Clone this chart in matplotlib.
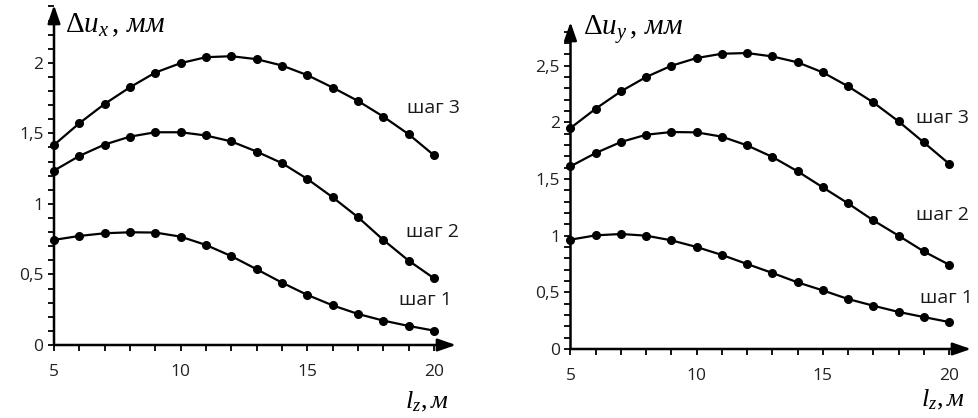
import matplotlib
matplotlib.use("Agg")
import matplotlib.pyplot as plt
from matplotlib.ticker import FixedLocator, MultipleLocator
import numpy as np

plt.rcParams['mathtext.fontset'] = 'custom'
plt.rcParams['mathtext.rm'] = 'Liberation Serif'
plt.rcParams['mathtext.it'] = 'Liberation Serif:italic'
plt.rcParams['font.family'] = ['Open Sans', 'DejaVu Sans']

# ---- data ----
lz = [5, 6, 7, 8, 9, 10, 11, 12, 13, 14, 15, 16, 17, 18, 19, 20]

ux_step1 = [0.745, 0.773, 0.792, 0.799, 0.797, 0.768, 0.709, 0.630, 0.537, 0.442,
            0.355, 0.281, 0.220, 0.173, 0.135, 0.102]
ux_step2 = [1.236, 1.340, 1.421, 1.477, 1.508, 1.508, 1.485, 1.443, 1.371, 1.289,
            1.177, 1.047, 0.906, 0.745, 0.598, 0.473]
ux_step3 = [1.418, 1.572, 1.709, 1.827, 1.931, 1.998, 2.040, 2.047, 2.026, 1.981,
            1.913, 1.825, 1.730, 1.619, 1.494, 1.345]

uy_step1 = [0.965, 1.003, 1.015, 1.000, 0.959, 0.900, 0.830, 0.750, 0.671, 0.588,
            0.517, 0.441, 0.382, 0.327, 0.282, 0.238]
uy_step2 = [1.612, 1.730, 1.827, 1.891, 1.915, 1.912, 1.874, 1.797, 1.695, 1.568,
            1.426, 1.285, 1.135, 1.000, 0.861, 0.744]
uy_step3 = [1.950, 2.121, 2.274, 2.401, 2.500, 2.568, 2.606, 2.612, 2.582, 2.530,
            2.441, 2.318, 2.176, 2.009, 1.823, 1.635]

step_labels = ['шаг 1', 'шаг 2', 'шаг 3']

x_major = [5, 10, 15, 20]
x_major_labels = ['5', '10', '15', '20']
left_y_major = [0, 0.5, 1, 1.5, 2]
left_y_labels = ['0', '0,5', '1', '1,5', '2']
right_y_major = [0, 0.5, 1, 1.5, 2, 2.5]
right_y_labels = ['0', '0,5', '1', '1,5', '2', '2,5']

left_ylabel = r'$\Delta u_{x}\,,\,мм$'
right_ylabel = r'$\Delta u_{y}\,,\,мм$'
xlabel = r'$l_{z},м$'

fig = plt.figure(figsize=(9.79, 4.18), dpi=100)
W, H = 979.0, 418.0


def make_axes(x0, x1, ybot, ytop):
    return fig.add_axes([x0 / W, (H - ybot) / H, (x1 - x0) / W, (ybot - ytop) / H])


axL = make_axes(54, 456, 345, 5)
axR = make_axes(570.5, 971, 349, 22)


def style(ax, ymax, yticks, ylabels):
    ax.set_xlim(5, 20.87)
    ax.set_ylim(0, ymax)
    for s in ax.spines.values():
        s.set_visible(False)
    ax.patch.set_alpha(0)
    ax.xaxis.set_major_locator(FixedLocator(x_major))
    ax.xaxis.set_minor_locator(MultipleLocator(1))
    ax.set_xticklabels(x_major_labels)
    ax.yaxis.set_major_locator(FixedLocator(yticks))
    ax.yaxis.set_minor_locator(MultipleLocator(0.1))
    ax.set_yticklabels(ylabels)
    ax.tick_params(which='both', direction='out', length=4.5, width=1.3, color='black')
    ax.tick_params(axis='x', which='major', pad=9, labelsize=12.5, labelcolor='#222222')
    ax.tick_params(axis='y', which='major', pad=3, labelsize=12.5, labelcolor='#222222')
    ax.tick_params(axis='x', which='minor', length=4.5)
    # axes with arrows
    ap = dict(arrowstyle='-|>,head_length=1.1,head_width=0.38', lw=1.8,
              color='black', shrinkA=0, shrinkB=0)
    ax.annotate('', xy=(0, 1), xytext=(0, 0), xycoords='axes fraction',
                textcoords='axes fraction', arrowprops=ap, annotation_clip=False)
    ax.annotate('', xy=(1, 0), xytext=(0, 0), xycoords='axes fraction',
                textcoords='axes fraction', arrowprops=ap, annotation_clip=False)


style(axL, 2.41, left_y_major, left_y_labels)
style(axR, 2.886, right_y_major, right_y_labels)

for ax, series in ((axL, (ux_step1, ux_step2, ux_step3)), (axR, (uy_step1, uy_step2, uy_step3))):
    for ys in series:
        ax.plot(lz, ys, color='black', lw=1.6, marker='o', markersize=5.5,
                clip_on=False, zorder=3)

# step labels
lab_kw = dict(ha='center', va='center', fontsize=14, color='#1a1a1a')
axL.text(19.96, 1.68, step_labels[2], **lab_kw)
axL.text(19.96, 0.80, step_labels[1], **lab_kw)
axL.text(19.65, 0.32, step_labels[0], **lab_kw)
axR.text(19.74, 2.04, step_labels[2], **lab_kw)
axR.text(19.74, 1.18, step_labels[1], **lab_kw)
axR.text(19.90, 0.45, step_labels[0], **lab_kw)

# axis titles
axL.text(5.43, 2.27, left_ylabel, ha='left', va='center', fontsize=21)
axR.text(5.49, 2.82, right_ylabel, ha='left', va='center', fontsize=21)
axL.text(19.73, -0.40, xlabel, ha='center', va='center', fontsize=19)
axR.text(19.74, -0.45, xlabel, ha='center', va='center', fontsize=19)

fig.savefig('out.png', dpi=100)
